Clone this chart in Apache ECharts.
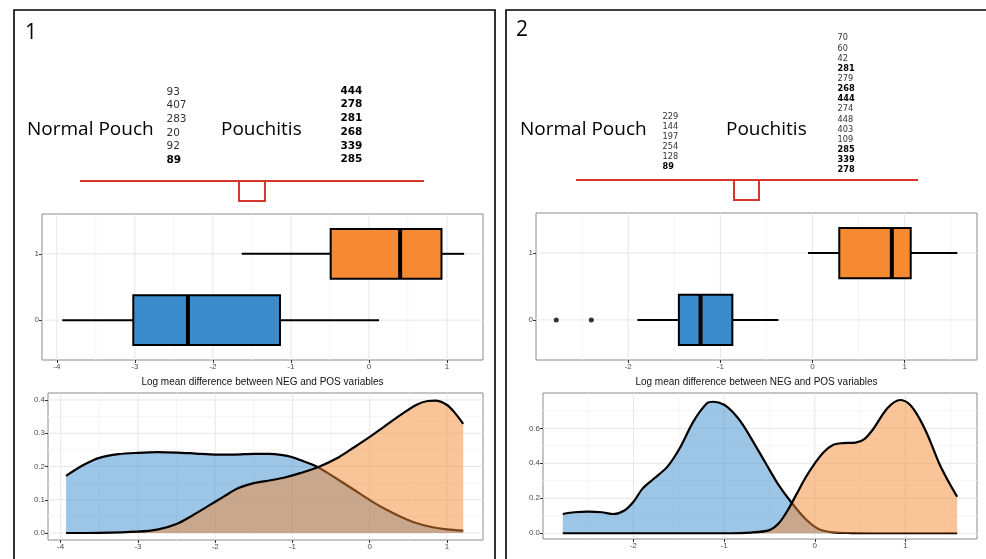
<!DOCTYPE html>
<html><head><meta charset="utf-8">
<script src="https://cdn.jsdelivr.net/npm/echarts@6/dist/echarts.min.js"></script>
<style>html,body{margin:0;padding:0;background:#fff}#c{width:986px;height:559px}</style>
</head><body><div id="c"></div>
<script>
// ---------- DATA ----------
const panelLabels = ['1', '2'];
const groupNames = ['Normal Pouch', 'Pouchitis'];
const p1NormalIds = ['93', '407', '283', '20', '92', '89'];
const p1NormalBold = ['89'];
const p1PouchIds = ['444', '278', '281', '268', '339', '285'];
const p1PouchBold = ['444', '278', '281', '268', '339', '285'];
const p2NormalIds = ['229', '144', '197', '254', '128', '89'];
const p2NormalBold = ['89'];
const p2PouchIds = ['70', '60', '42', '281', '279', '268', '444', '274', '448', '403', '109', '285', '339', '278'];
const p2PouchBold = ['281', '268', '444', '285', '339', '278'];

const boxGroups = [0, 1];
// [lower whisker, Q1, median, Q3, upper whisker]
const box1Stats = [[-3.93, -3.02, -2.32, -1.14, 0.13], [-1.63, -0.49, 0.40, 0.93, 1.22]];
const box2Stats = [[-1.90, -1.45, -1.215, -0.87, -0.37], [-0.05, 0.29, 0.86, 1.065, 1.57]];
const box2OutlierX = [-2.78, -2.40];
const box2OutlierGroup = [0, 0];

const dens1NormalX = [-3.93, -3.7, -3.5, -3.25, -3.0, -2.75, -2.5, -2.25, -2.0, -1.75, -1.5, -1.3, -1.15, -1.0, -0.85, -0.67, -0.5, -0.25, 0.0, 0.2, 0.4, 0.6, 0.8, 1.0, 1.21];
const dens1NormalY = [0.172, 0.205, 0.226, 0.237, 0.241, 0.243, 0.242, 0.239, 0.236, 0.236, 0.238, 0.238, 0.235, 0.228, 0.215, 0.198, 0.174, 0.137, 0.099, 0.072, 0.049, 0.030, 0.018, 0.011, 0.007];
const dens1PouchX = [-3.93, -3.5, -3.0, -2.75, -2.5, -2.3, -2.1, -1.9, -1.7, -1.5, -1.3, -1.1, -0.9, -0.67, -0.4, -0.2, 0.0, 0.2, 0.4, 0.6, 0.75, 0.85, 1.0, 1.1, 1.21];
const dens1PouchY = [0.0, 0.0005, 0.004, 0.010, 0.027, 0.052, 0.080, 0.108, 0.135, 0.150, 0.158, 0.167, 0.180, 0.198, 0.228, 0.258, 0.289, 0.322, 0.355, 0.385, 0.397, 0.398, 0.385, 0.362, 0.328];

const dens2NormalX = [-2.78, -2.65, -2.5, -2.35, -2.22, -2.1, -2.0, -1.9, -1.78, -1.63, -1.49, -1.34, -1.19, -1.12, -1.0, -0.9, -0.8, -0.68, -0.53, -0.4, -0.26, -0.1, 0.05, 0.2, 0.4, 0.8, 1.57];
const dens2NormalY = [0.110, 0.120, 0.124, 0.120, 0.110, 0.130, 0.180, 0.255, 0.310, 0.378, 0.486, 0.638, 0.743, 0.752, 0.735, 0.690, 0.625, 0.523, 0.390, 0.276, 0.177, 0.080, 0.022, 0.005, 0.001, 0.0, 0.0];
const dens2PouchX = [-2.78, -1.0, -0.7, -0.5, -0.4, -0.3, -0.2, -0.1, 0.0, 0.1, 0.2, 0.3, 0.45, 0.55, 0.65, 0.8, 0.94, 1.05, 1.15, 1.25, 1.38, 1.48, 1.57];
const dens2PouchY = [0.0, 0.0, 0.004, 0.018, 0.055, 0.130, 0.225, 0.320, 0.400, 0.465, 0.505, 0.515, 0.518, 0.540, 0.600, 0.715, 0.762, 0.735, 0.660, 0.555, 0.390, 0.290, 0.209];

const xTicks1 = [-4, -3, -2, -1, 0, 1];
const xMinor1 = [-3.5, -2.5, -1.5, -0.5, 0.5];
const xTicks2 = [-2, -1, 0, 1];
const xMinor2 = [-2.5, -1.5, -0.5, 0.5, 1.5];
const boxYTicks = [0, 1];
const dens1YTicks = [0, 0.1, 0.2, 0.3, 0.4];
const dens1YMinor = [0.05, 0.15, 0.25, 0.35];
const dens2YTicks = [0, 0.2, 0.4, 0.6];
const dens2YMinor = [0.1, 0.3, 0.5, 0.7];
const xTitle = 'Log mean difference between NEG and POS variables';

// ---------- STYLE ----------
const boxColors = ['#3a8ccd', '#f58a33'];
const RED = '#d8352e';
const tickFont = 'Liberation Sans';

const chart = echarts.init(document.getElementById('c'), null, {renderer: 'canvas'});

const grids = [
  {left: 42, top: 214, width: 441, height: 146},
  {left: 48, top: 393, width: 435, height: 147},
  {left: 536, top: 213, width: 441, height: 147},
  {left: 543, top: 393, width: 434, height: 146}
].map(g => Object.assign(g, {show: true, borderColor: '#8a8a8a', borderWidth: 1, backgroundColor: 'transparent', containLabel: false}));

function xAxisCfg(gi, min, max, ticks, name) {
  return {
    type: 'value', gridIndex: gi, min, max, position: 'bottom',
    splitLine: {show: false}, axisLine: {show: false, onZero: false},
    axisTick: {show: true, length: 3, customValues: ticks, lineStyle: {color: '#333', width: 1}},
    axisLabel: {customValues: ticks, fontSize: 8, color: '#4d4d4d', margin: 3, fontFamily: tickFont},
    name: name || '', nameLocation: 'middle', nameGap: 17,
    nameTextStyle: {fontSize: 10, color: '#111', fontFamily: tickFont}
  };
}
function yAxisCfg(gi, min, max, ticks, fmt) {
  return {
    type: 'value', gridIndex: gi, min, max, position: 'left',
    splitLine: {show: false}, axisLine: {show: false, onZero: false},
    axisTick: {show: true, length: 3, customValues: ticks, lineStyle: {color: '#333', width: 1}},
    axisLabel: {customValues: ticks, fontSize: 8, color: '#4d4d4d', margin: 3, fontFamily: tickFont,
      formatter: fmt || (v => String(v))}
  };
}

function gridLines(axisIdx, values, vertical, color, width) {
  return {
    type: 'custom', xAxisIndex: axisIdx, yAxisIndex: axisIdx, silent: true, z: 0,
    data: values.map(v => vertical ? [v, 0] : [0, v]),
    renderItem: (params, api) => {
      const cs = params.coordSys;
      const p = api.coord([api.value(0), api.value(1)]);
      const shape = vertical
        ? {x1: p[0], y1: cs.y, x2: p[0], y2: cs.y + cs.height}
        : {x1: cs.x, y1: p[1], x2: cs.x + cs.width, y2: p[1]};
      return {type: 'line', shape, style: {stroke: color, lineWidth: width}};
    }
  };
}

function boxSeries(axisIdx, stats) {
  return {
    type: 'custom', xAxisIndex: axisIdx, yAxisIndex: axisIdx, z: 5,
    data: boxGroups.map((g, i) => [g].concat(stats[i])),
    encode: {x: [1, 2, 3, 4, 5], y: 0},
    renderItem: (params, api) => {
      const g = api.value(0);
      const lo = api.coord([api.value(1), g]);
      const q1 = api.coord([api.value(2), g]);
      const md = api.coord([api.value(3), g]);
      const q3 = api.coord([api.value(4), g]);
      const hi = api.coord([api.value(5), g]);
      const top = api.coord([api.value(2), g + 0.375])[1];
      const bot = api.coord([api.value(2), g - 0.375])[1];
      return {type: 'group', children: [
        {type: 'line', shape: {x1: lo[0], y1: lo[1], x2: q1[0], y2: q1[1]}, style: {stroke: '#000', lineWidth: 2}},
        {type: 'line', shape: {x1: q3[0], y1: q3[1], x2: hi[0], y2: hi[1]}, style: {stroke: '#000', lineWidth: 2}},
        {type: 'rect', shape: {x: q1[0], y: top, width: q3[0] - q1[0], height: bot - top},
          style: {fill: boxColors[params.dataIndex], stroke: '#000', lineWidth: 2}},
        {type: 'line', shape: {x1: md[0], y1: top, x2: md[0], y2: bot}, style: {stroke: '#000', lineWidth: 4}}
      ]};
    }
  };
}

function densSeries(axisIdx, xs, ys, color, z) {
  return {
    type: 'line', xAxisIndex: axisIdx, yAxisIndex: axisIdx, z: z,
    data: xs.map((x, i) => [x, ys[i]]),
    smooth: 0.3, symbol: 'none',
    lineStyle: {color: '#000', width: 2.2},
    areaStyle: {color: color, opacity: 0.5},
    silent: true
  };
}

// ---------- GRAPHIC (headers) ----------
const graphic = [];
graphic.push({type: 'rect', shape: {x: 14, y: 10, width: 481, height: 570}, style: {fill: null, stroke: '#000', lineWidth: 1.6}, z: 100});
graphic.push({type: 'rect', shape: {x: 506, y: 10, width: 500, height: 570}, style: {fill: null, stroke: '#000', lineWidth: 1.6}, z: 100});

function txt(x, y, text, font, opts) {
  graphic.push({type: 'text', x, y, z: 100, style: Object.assign({text, font, fill: '#000', textAlign: 'left', textVerticalAlign: 'middle'}, opts || {})});
}
const headFont = '19px "Open Sans"';
txt(25, 33, panelLabels[0], '21px "Open Sans"');
txt(516, 30, panelLabels[1], '21px "Open Sans"');
txt(27, 130, groupNames[0], headFont);
txt(221, 130, groupNames[1], headFont);
txt(520, 130, groupNames[0], headFont);
txt(726, 130, groupNames[1], headFont);

function idColumn(ids, bold, x, y0, step, size) {
  ids.forEach((id, i) => {
    const b = bold.indexOf(id) >= 0;
    txt(x, y0 + i * step, id, (b ? 'bold ' : '') + size + 'px "DejaVu Sans"', {fill: b ? '#000' : '#333'});
  });
}
idColumn(p1NormalIds, p1NormalBold, 166.5, 92, 13.6, 10.5);
idColumn(p1PouchIds, p1PouchBold, 340.5, 91, 13.7, 10.5);
idColumn(p2NormalIds, p2NormalBold, 662.5, 116.7, 10.1, 8.2);
idColumn(p2PouchIds, p2PouchBold, 837.5, 38.3, 10.15, 8.2);

function bracket(x1, x2, bl, br, y, yb) {
  graphic.push({type: 'polyline', z: 100, shape: {points: [[x1, y], [x2, y]]}, style: {stroke: RED, lineWidth: 2, fill: null}});
  graphic.push({type: 'polyline', z: 100, shape: {points: [[bl, y], [bl, yb], [br, yb], [br, y]]}, style: {stroke: RED, lineWidth: 2, fill: null}});
}
bracket(80, 424, 239, 265, 181, 201);
bracket(576, 918, 734, 759, 180, 200);

const f1 = v => v.toFixed(1);

chart.setOption({
  animation: false,
  backgroundColor: '#fff',
  grid: grids,
  xAxis: [
    xAxisCfg(0, -4.19, 1.462, xTicks1, xTitle),
    xAxisCfg(1, -4.164, 1.466, xTicks1),
    xAxisCfg(2, -3.0, 1.784, xTicks2, xTitle),
    xAxisCfg(3, -2.998, 1.789, xTicks2)
  ],
  yAxis: [
    yAxisCfg(0, -0.6, 1.6, boxYTicks),
    yAxisCfg(1, -0.021, 0.421, dens1YTicks, f1),
    yAxisCfg(2, -0.6, 1.6, boxYTicks),
    yAxisCfg(3, -0.033, 0.802, dens2YTicks, f1)
  ],
  graphic: graphic,
  series: [
    gridLines(0, xMinor1, true, '#f3f3f3', 0.8),
    gridLines(0, xTicks1, true, '#e6e6e6', 1),
    gridLines(0, boxYTicks, false, '#e6e6e6', 1),
    gridLines(1, xMinor1, true, '#f3f3f3', 0.8),
    gridLines(1, xTicks1, true, '#e6e6e6', 1),
    gridLines(1, dens1YMinor, false, '#f3f3f3', 0.8),
    gridLines(1, dens1YTicks, false, '#e6e6e6', 1),
    gridLines(2, xMinor2, true, '#f3f3f3', 0.8),
    gridLines(2, xTicks2, true, '#e6e6e6', 1),
    gridLines(2, boxYTicks, false, '#e6e6e6', 1),
    gridLines(3, xMinor2, true, '#f3f3f3', 0.8),
    gridLines(3, xTicks2, true, '#e6e6e6', 1),
    gridLines(3, dens2YMinor, false, '#f3f3f3', 0.8),
    gridLines(3, dens2YTicks, false, '#e6e6e6', 1),
    boxSeries(0, box1Stats),
    boxSeries(2, box2Stats),
    {type: 'scatter', xAxisIndex: 2, yAxisIndex: 2, z: 6, symbolSize: 5, itemStyle: {color: '#000'},
      data: box2OutlierX.map((x, i) => [x, box2OutlierGroup[i]])},
    densSeries(1, dens1NormalX, dens1NormalY, boxColors[0], 3),
    densSeries(1, dens1PouchX, dens1PouchY, boxColors[1], 4),
    densSeries(3, dens2NormalX, dens2NormalY, boxColors[0], 3),
    densSeries(3, dens2PouchX, dens2PouchY, boxColors[1], 4)
  ]
});
</script>
</body></html>
